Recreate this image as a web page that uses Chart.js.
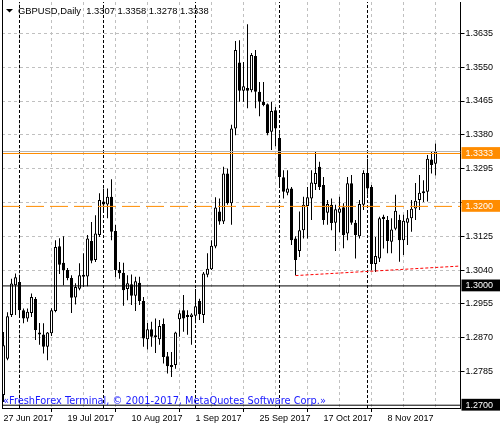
<!DOCTYPE html>
<html lang="en">
<head>
    <meta charset="UTF-8">
    <title>GBPUSD Daily</title>
    <script src="https://cdn.jsdelivr.net/npm/chart.js@4.4.0/dist/chart.umd.min.js"></script>
    <style>
        html, body { margin: 0; padding: 0; background: #fff; }
        #chart { display: block; }
    </style>
</head>
<body>
<canvas id="chart" width="500" height="430"></canvas>

<script>
    // daily bars, 27 Jun 2017 .. 24 Nov 2017
    var barOpen = [
        1.2726, 1.2817, 1.2927, 1.3002, 1.3010, 1.2939, 1.2918, 1.2932, 1.2967, 1.2883,
        1.2878, 1.2847, 1.2881, 1.2937, 1.3100, 1.3058, 1.3040, 1.3020, 1.2971, 1.2993,
        1.3026, 1.3024, 1.3113, 1.3065, 1.3128, 1.3212, 1.3205, 1.3224, 1.3138, 1.3040,
        1.3033, 1.2992, 1.3004, 1.2975, 1.3008, 1.2962, 1.2866, 1.2891, 1.2874, 1.2866,
        1.2904, 1.2823, 1.2801, 1.2801, 1.2916, 1.2939, 1.2922, 1.2922, 1.2925, 1.2962,
        1.2927, 1.3028, 1.3042, 1.3099, 1.3187, 1.3162, 1.3283, 1.3208, 1.3396, 1.3562,
        1.3491, 1.3498, 1.3492, 1.3578, 1.3488, 1.3463, 1.3457, 1.3388, 1.3442, 1.3372,
        1.3273, 1.3234, 1.3245, 1.3119, 1.3088, 1.3140, 1.3201, 1.3220, 1.3256, 1.3300,
        1.3254, 1.3184, 1.3204, 1.3159, 1.3184, 1.3198, 1.3132, 1.3258, 1.3159, 1.3125,
        1.3204, 1.3284, 1.3249, 1.3055, 1.3069, 1.3174, 1.3166, 1.3111, 1.3144, 1.3166,
        1.3115, 1.3159, 1.3170, 1.3195, 1.3216, 1.3238, 1.3237, 1.3318, 1.3307
    ];
    var barHigh = [
        1.2884, 1.2934, 1.3018, 1.3031, 1.3021, 1.2943, 1.2943, 1.2981, 1.2972, 1.2907,
        1.2906, 1.2884, 1.2944, 1.3115, 1.3120, 1.3125, 1.3045, 1.3027, 1.3007, 1.3057,
        1.3082, 1.3128, 1.3161, 1.3178, 1.3233, 1.3245, 1.3245, 1.3268, 1.3153, 1.3060,
        1.3058, 1.3027, 1.3029, 1.3023, 1.3023, 1.2972, 1.2907, 1.2910, 1.2918, 1.2914,
        1.2918, 1.2834, 1.2834, 1.2885, 1.2939, 1.2977, 1.2939, 1.2931, 1.2992, 1.2968,
        1.3035, 1.3082, 1.3115, 1.3223, 1.3220, 1.3300, 1.3295, 1.3405, 1.3616, 1.3618,
        1.3563, 1.3658, 1.3586, 1.3593, 1.3513, 1.3513, 1.3459, 1.3463, 1.3450, 1.3384,
        1.3291, 1.3291, 1.3249, 1.3125, 1.3187, 1.3224, 1.3249, 1.3291, 1.3337, 1.3312,
        1.3274, 1.3216, 1.3220, 1.3204, 1.3224, 1.3208, 1.3274, 1.3279, 1.3166, 1.3216,
        1.3291, 1.3320, 1.3254, 1.3123, 1.3174, 1.3179, 1.3176, 1.3170, 1.3229, 1.3179,
        1.3179, 1.3191, 1.3216, 1.3259, 1.3279, 1.3266, 1.3329, 1.3337, 1.3358
    ];
    var barLow = [
        1.2708, 1.2813, 1.2922, 1.2927, 1.2922, 1.2906, 1.2910, 1.2922, 1.2864, 1.2852,
        1.2830, 1.2813, 1.2874, 1.2934, 1.3030, 1.3002, 1.3014, 1.2932, 1.2953, 1.2989,
        1.2997, 1.2999, 1.3057, 1.3060, 1.3123, 1.3191, 1.3170, 1.3115, 1.3022, 1.3018,
        1.2950, 1.2964, 1.2952, 1.2937, 1.2952, 1.2847, 1.2840, 1.2847, 1.2831, 1.2852,
        1.2805, 1.2780, 1.2771, 1.2792, 1.2872, 1.2885, 1.2877, 1.2852, 1.2906, 1.2914,
        1.2907, 1.3022, 1.3040, 1.3095, 1.3154, 1.3156, 1.3204, 1.3154, 1.3379, 1.3463,
        1.3463, 1.3447, 1.3487, 1.3447, 1.3427, 1.3452, 1.3379, 1.3342, 1.3351, 1.3249,
        1.3220, 1.3228, 1.3103, 1.3027, 1.3073, 1.3119, 1.3119, 1.3166, 1.3241, 1.3241,
        1.3154, 1.3154, 1.3140, 1.3088, 1.3135, 1.3095, 1.3115, 1.3154, 1.3069, 1.3119,
        1.3191, 1.3229, 1.3039, 1.3035, 1.3060, 1.3094, 1.3082, 1.3082, 1.3140, 1.3061,
        1.3078, 1.3103, 1.3136, 1.3166, 1.3191, 1.3211, 1.3212, 1.3283, 1.3278
    ];
    var barClose = [
        1.2851, 1.2924, 1.3006, 1.3022, 1.2939, 1.2918, 1.2935, 1.2972, 1.2889, 1.2878,
        1.2847, 1.2883, 1.2939, 1.3098, 1.3053, 1.3040, 1.3020, 1.2970, 1.2997, 1.3027,
        1.3023, 1.3119, 1.3063, 1.3132, 1.3216, 1.3205, 1.3224, 1.3136, 1.3040, 1.3032,
        1.2989, 1.3007, 1.2975, 1.3012, 1.2962, 1.2868, 1.2891, 1.2872, 1.2871, 1.2899,
        1.2821, 1.2798, 1.2796, 1.2883, 1.2931, 1.2918, 1.2923, 1.2928, 1.2949, 1.2929,
        1.3031, 1.3043, 1.3101, 1.3197, 1.3162, 1.3283, 1.3208, 1.3396, 1.3593, 1.3491,
        1.3502, 1.3491, 1.3581, 1.3488, 1.3463, 1.3455, 1.3384, 1.3440, 1.3396, 1.3274,
        1.3237, 1.3245, 1.3115, 1.3065, 1.3140, 1.3204, 1.3223, 1.3260, 1.3284, 1.3249,
        1.3166, 1.3206, 1.3158, 1.3193, 1.3195, 1.3128, 1.3258, 1.3159, 1.3128, 1.3206,
        1.3284, 1.3245, 1.3055, 1.3075, 1.3170, 1.3168, 1.3113, 1.3142, 1.3189, 1.3115,
        1.3164, 1.3170, 1.3194, 1.3214, 1.3234, 1.3233, 1.3320, 1.3304, 1.3338
    ];

    // time axis: labels every 16 bars, grid every 8 bars
    var labelDates = ['27 Jun 2017', '19 Jul 2017', '10 Aug 2017', '1 Sep 2017', '25 Sep 2017', '17 Oct 2017', '8 Nov 2017'];
    var labelBars = [0, 16, 32, 48, 64, 80, 96];
    var gridBars = [0, 8, 16, 24, 32, 40, 48, 56, 64, 72, 80, 88, 96, 104, 112];
    var monthStartBars = [4, 25, 48, 69, 91];

    // price axis
    var gridPrices = [1.2785, 1.2870, 1.2955, 1.3040, 1.3125, 1.3210, 1.3295, 1.3380, 1.3465, 1.3550, 1.3635];
    var hiddenPriceLabels = [1.3210];
    var blackLevels = [1.2700, 1.3000];
    var orangeDashLevel = 1.3200;
    var bidLevel = 1.3333;
    var askLevel = 1.3338;

    // support line under the October / November lows
    var trendBars = [73, 114.25];
    var trendPrices = [1.3026, 1.3050];

    var headerText = 'GBPUSD,Daily  1.3307 1.3358 1.3278 1.3338';
    var copyrightText = '\u00abFreshForex Terminal, \u00a9 2001-2017, MetaQuotes Software Corp.\u00bb';

    var X_MIN = -0.375, X_MAX = 114.25;
    var Y_MIN = 1.2693, Y_MAX = 1.3714;
    var ORANGE = '#ff8c00';
    var FONT = '"Liberation Sans", Arial, sans-serif';

    function near(a, b) { return Math.abs(a - b) < 1e-6; }
    function inList(list, v) { return list.some(function (p) { return near(p, v); }); }

    function tagColor(v) {
        if (inList(blackLevels, v)) return '#000000';
        if (near(v, orangeDashLevel) || near(v, bidLevel)) return ORANGE;
        return null;
    }

    var yTicks = gridPrices.concat(blackLevels, [orangeDashLevel, bidLevel]).sort(function (a, b) { return a - b; });

    var bodies = barOpen.map(function (o, i) { return { x: i, y: [o, barClose[i]] }; });
    var wicks = barLow.map(function (l, i) { return { x: i, y: [l, barHigh[i]] }; });

    function hline(price, color, dash) {
        return {
            type: 'line',
            data: [{ x: X_MIN, y: price }, { x: X_MAX, y: price }],
            borderColor: color,
            borderWidth: 1,
            borderDash: dash || [],
            pointRadius: 0,
            fill: false
        };
    }

    var separators = monthStartBars.map(function (b) {
        return {
            type: 'line',
            data: [{ x: b, y: Y_MIN }, { x: b, y: Y_MAX }],
            borderColor: '#000000',
            borderWidth: 1,
            borderDash: [3, 2],
            pointRadius: 0,
            fill: false
        };
    });

    var datasets = [
        hline(blackLevels[0], '#000000'),
        hline(blackLevels[1], '#000000'),
        hline(orangeDashLevel, ORANGE, [18, 6]),
        hline(bidLevel, ORANGE),
        hline(askLevel, '#b4b4b4'),
        {
            type: 'line',
            data: trendBars.map(function (b, i) { return { x: b, y: trendPrices[i] }; }),
            borderColor: '#ff0000',
            borderWidth: 1,
            borderDash: [3, 2],
            pointRadius: 0,
            fill: false
        },
        {
            type: 'bar',
            data: bodies,
            grouped: false,
            barPercentage: 1,
            categoryPercentage: 1,
            maxBarThickness: 3,
            minBarLength: 2,
            borderWidth: 1,
            borderColor: '#000000',
            borderSkipped: false,
            inflateAmount: 0,
            backgroundColor: function (ctx) {
                var i = ctx.dataIndex;
                return barClose[i] >= barOpen[i] ? '#ffffff' : '#000000';
            }
        },
        {
            type: 'bar',
            data: wicks,
            grouped: false,
            barPercentage: 1,
            categoryPercentage: 1,
            maxBarThickness: 1,
            borderWidth: 0,
            inflateAmount: 0,
            backgroundColor: '#000000'
        }
    ].concat(separators);

    var overlay = {
        id: 'overlay',
        afterDraw: function (chart) {
            var ctx = chart.ctx, a = chart.chartArea;
            ctx.save();
            ctx.strokeStyle = '#000';
            ctx.lineWidth = 1;
            ctx.beginPath();
            ctx.moveTo(a.left + 0.5, 0);
            ctx.lineTo(a.left + 0.5, a.bottom);
            ctx.stroke();

            ctx.fillStyle = '#000';
            ctx.beginPath();
            ctx.moveTo(6, 9);
            ctx.lineTo(13, 9);
            ctx.lineTo(9.5, 12.5);
            ctx.closePath();
            ctx.fill();

            ctx.font = '9.4px ' + FONT;
            ctx.textBaseline = 'alphabetic';
            ctx.fillText(headerText, 18, 14);

            ctx.fillStyle = '#1a1aff';
            ctx.font = '9.8px "DejaVu Sans", sans-serif';
            ctx.fillText(copyrightText, 3, 404);
            ctx.restore();
        }
    };

    new Chart(document.getElementById('chart'), {
        type: 'bar',
        data: { datasets: datasets },
        plugins: [overlay],
        options: {
            responsive: false,
            animation: false,
            devicePixelRatio: 1,
            layout: { padding: { left: 2, top: 2, right: 0, bottom: 0 } },
            plugins: { legend: { display: false }, tooltip: { enabled: false } },
            scales: {
                x: {
                    type: 'linear',
                    min: X_MIN,
                    max: X_MAX,
                    offset: false,
                    afterBuildTicks: function (s) {
                        s.ticks = gridBars.map(function (v) { return { value: v }; });
                    },
                    afterFit: function (s) {
                        s.height = 22;
                        s.paddingLeft = 0;
                        s.paddingRight = 0;
                    },
                    grid: {
                        color: '#c0c0c0',
                        lineWidth: 1,
                        tickLength: 4,
                        tickColor: function (ctx) {
                            return ctx.tick && labelBars.indexOf(ctx.tick.value) >= 0 ? '#000000' : 'rgba(0,0,0,0)';
                        }
                    },
                    border: { display: true, color: '#000000', width: 1, dash: [3, 3] },
                    ticks: {
                        autoSkip: false,
                        maxRotation: 0,
                        align: 'start',
                        padding: 1,
                        color: '#000000',
                        font: { family: FONT, size: 9 },
                        callback: function (v) {
                            var k = labelBars.indexOf(v);
                            return k >= 0 ? labelDates[k] : '';
                        }
                    }
                },
                y: {
                    type: 'linear',
                    position: 'right',
                    min: Y_MIN,
                    max: Y_MAX,
                    afterBuildTicks: function (s) {
                        s.ticks = yTicks.map(function (v) { return { value: v }; });
                    },
                    afterFit: function (s) {
                        s.width = 39.5;
                        s.paddingTop = 0;
                        s.paddingBottom = 0;
                    },
                    grid: {
                        lineWidth: 1,
                        tickLength: 4,
                        color: function (ctx) {
                            return ctx.tick && tagColor(ctx.tick.value) ? 'rgba(0,0,0,0)' : '#c0c0c0';
                        },
                        tickColor: function (ctx) {
                            return ctx.tick && tagColor(ctx.tick.value) ? 'rgba(0,0,0,0)' : '#000000';
                        }
                    },
                    border: { display: true, color: '#000000', width: 1, dash: [3, 3] },
                    ticks: {
                        autoSkip: false,
                        padding: 1,
                        font: { family: FONT, size: 9 },
                        color: function (ctx) {
                            return ctx.tick && tagColor(ctx.tick.value) ? '#ffffff' : '#000000';
                        },
                        showLabelBackdrop: function (ctx) {
                            return !!(ctx.tick && tagColor(ctx.tick.value));
                        },
                        backdropColor: function (ctx) {
                            return (ctx.tick && tagColor(ctx.tick.value)) || 'rgba(0,0,0,0)';
                        },
                        backdropPadding: { left: 4, right: 8, top: 1, bottom: 0 },
                        callback: function (v) {
                            return inList(hiddenPriceLabels, v) ? '' : v.toFixed(4);
                        }
                    }
                }
            }
        }
    });
</script>
</body>
</html>
